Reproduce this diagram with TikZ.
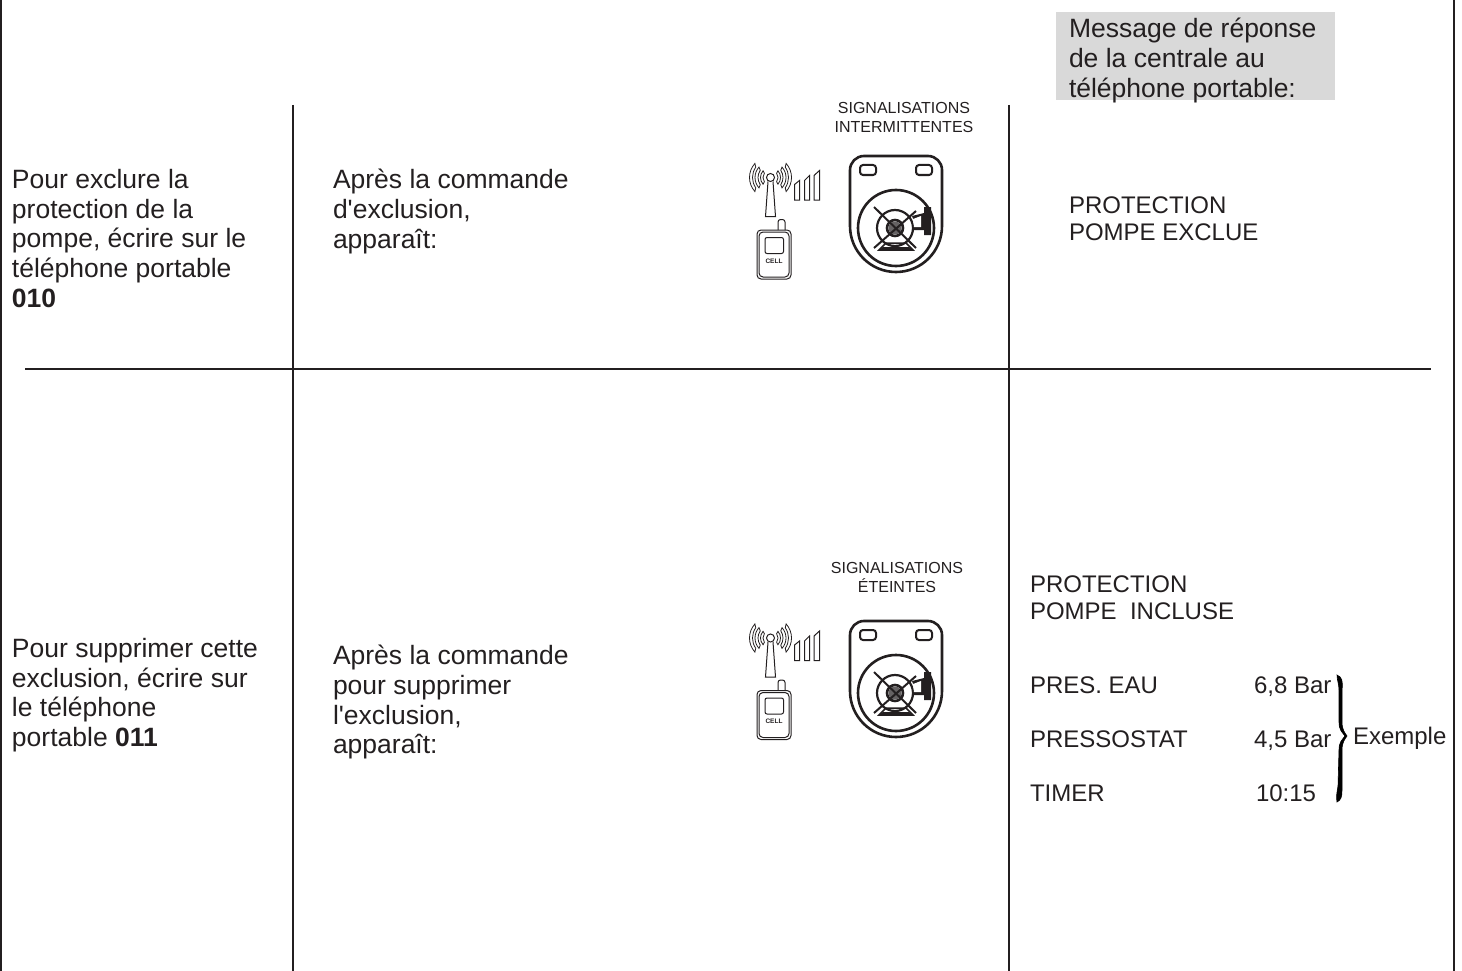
\documentclass[tikz,border=0pt]{standalone}
\usepackage{fontspec}
\setmainfont{Liberation Sans}
\definecolor{ink}{HTML}{231F20}
\tikzset{
 rule/.style={draw=ink,line width=1.2pt},
 txt/.style={inner sep=0pt,outer sep=0pt,anchor=north west,align=left,text=ink,font=\fontsize{26.5}{29.8}\selectfont},
 txtm/.style={inner sep=0pt,outer sep=0pt,anchor=north west,align=left,text=ink,font=\fontsize{24}{27}\selectfont},
 smalltxt/.style={inner sep=0pt,outer sep=0pt,anchor=north,align=center,text=ink,font=\fontsize{16}{19}\selectfont},
 ic/.style={draw=ink,line width=1pt},
 icb/.style={draw=ink,line width=2.6pt},
 shieldicon/.pic={
  \draw[icb] (0,14) arc[start angle=180,end angle=270,radius=14] -- (78,0) arc[start angle=270,end angle=360,radius=14] -- (92,70) arc[start angle=0,end angle=180,radius=46] -- cycle;
  \draw[icb,line width=2pt,rounded corners=3pt] (10,9) rectangle (26,19);
  \draw[icb,line width=2pt,rounded corners=3pt] (66,9) rectangle (82,19);
  \draw[icb] (46,72) circle[radius=38];
  \draw[draw=ink,line width=2.2pt] (45,72) circle[radius=18];
  \draw[draw=ink,line width=2.6pt] (45,72) circle[radius=8];
  \fill[ink!70] (45,72) circle[radius=6.5];
  \draw[ink,line width=2pt] (24,51) -- (66,92) (66,55) -- (24,92);
  \fill[ink] (62,60) -- (74,57) -- (74,51) -- (81,51) -- (81,79) -- (74,79) -- (74,74) -- (62,74) -- (65,68) -- cycle;
  \fill[white] (63,63) -- (71,60) -- (71,71) -- (64,71) -- cycle;
  \draw[ink,line width=1.5pt] (29,94) -- (36,87) -- (56,87) -- (63,94) -- cycle;
  \fill[ink] (33,91) -- (59,91) -- (63,94) -- (29,94) -- cycle;
 },
 phoneicon/.pic={
  \draw[ic] (0,0) circle[radius=4];
  \draw[ic] (-2.5,4) -- (-5,39) -- (5,39) -- (2.5,4);
  \foreach \ro/\ri in {10/7.5,15.5/12.5,21/18}{
   \draw[ic,line width=.8pt] (42:\ro) arc[start angle=42,end angle=-42,radius=\ro] -- (-35:\ri) arc[start angle=-35,end angle=35,radius=\ri] -- cycle;
   \draw[ic,line width=.8pt] (138:\ro) arc[start angle=138,end angle=222,radius=\ro] -- (215:\ri) arc[start angle=215,end angle=145,radius=\ri] -- cycle;
  }
  \draw[ic] (24,22.5) -- (24,7) -- (29,3) -- (29,22.5) -- cycle;
  \draw[ic] (34,22.5) -- (34,3) -- (39,-2) -- (39,22.5) -- cycle;
  \draw[ic] (43.5,22.5) -- (43.5,-2) -- (49,-7) -- (49,22.5) -- cycle;
  \draw[ic,rounded corners=2.5pt] (7.5,52.5) -- (7.5,42) -- (14.5,42) -- (14.5,52.5);
  \draw[ic,rounded corners=4pt] (-13.5,52.5) rectangle (20.5,101.5);
  \draw[ic,rounded corners=4pt] (-11.5,54.5) rectangle (18.5,99.5);
  \draw[ic,rounded corners=2pt] (-5.5,60) rectangle (13,76);
  \node[inner sep=0pt,font=\bfseries\fontsize{6.5}{6.5}\selectfont,text=ink] at (3.5,83.5) {CELL};
 }
}
\begin{document}
\begin{tikzpicture}[x=1pt,y=-1pt]
\useasboundingbox (0,0) rectangle (1462,971);
\coordinate (leftT) at (1,0); \coordinate (leftB) at (1,971);
\coordinate (rightT) at (1454,0); \coordinate (rightB) at (1454,971);
\coordinate (v1T) at (293,105); \coordinate (v1B) at (293,971);
\coordinate (v2T) at (1009,105); \coordinate (v2B) at (1009,971);
\coordinate (hL) at (25,369); \coordinate (hR) at (1431,369);
\draw[rule] (leftT) -- (leftB);
\draw[rule] (rightT) -- (rightB);
\draw[rule] (v1T) -- (v1B);
\draw[rule] (v2T) -- (v2B);
\draw[rule] (hL) -- (hR);
\fill[black!15] (1056,12) rectangle (1335,100);
\node[txt] (msg) at (1069,18) {Message de réponse\\de la centrale au\\téléphone portable:};
\node[txt] (a1) at (12,169) {Pour exclure la\\protection de la\\pompe, écrire sur le\\téléphone portable\\\textbf{010}};
\node[txt] (b1) at (333,169) {Après la commande\\d\textquotesingle exclusion,\\apparaît:};
\node[txtm] (c1) at (1069,197) {PROTECTION\\POMPE EXCLUE};
\node[smalltxt] (s1) at (904,102.5) {SIGNALISATIONS\\INTERMITTENTES};
\node[txt] (a2) at (12,638) {Pour supprimer cette\\exclusion, écrire sur\\le téléphone\\portable \textbf{011}};
\node[txt] (b2) at (333,645) {Après la commande\\pour supprimer\\l\textquotesingle exclusion,\\apparaît:};
\node[smalltxt] (s2) at (897,562.5) {SIGNALISATIONS\\ÉTEINTES};
\node[txtm] (c2) at (1030,576) {PROTECTION\\POMPE\ \ INCLUSE};
\node[txtm] (p1) at (1030,677) {PRES. EAU};
\node[txtm] (p2) at (1030,731) {PRESSOSTAT};
\node[txtm] (p3) at (1030,785) {TIMER};
\node[txtm] (v1) at (1254,677) {6,8 Bar};
\node[txtm] (v2) at (1254,731) {4,5 Bar};
\node[txtm] (v3) at (1256,785) {10:15};
\node[txtm] (ex) at (1353,727) {Exemple};
\filldraw[black,line width=.6pt] (1337,675) .. controls (1342,677) and (1343,681) .. (1342,690)
  -- (1342,722) .. controls (1342,730) and (1345,733) .. (1347,736)
  .. controls (1345,739) and (1342,742) .. (1342,750) -- (1342,790)
  .. controls (1342,797) and (1341,800) .. (1337,802)
  .. controls (1336,797) and (1337,792) .. (1338,786)
  -- (1339,750) .. controls (1339,742) and (1342,740) .. (1345,736)
  .. controls (1342,732) and (1339,730) .. (1339,722)
  -- (1339,690) .. controls (1339,684) and (1337,680) .. (1337,675) -- cycle;
\pic at (850,156) {shieldicon};
\pic at (850,621) {shieldicon};
\pic at (770.5,177.5) {phoneicon};
\pic at (770.5,638) {phoneicon};
\end{tikzpicture}
\end{document}
